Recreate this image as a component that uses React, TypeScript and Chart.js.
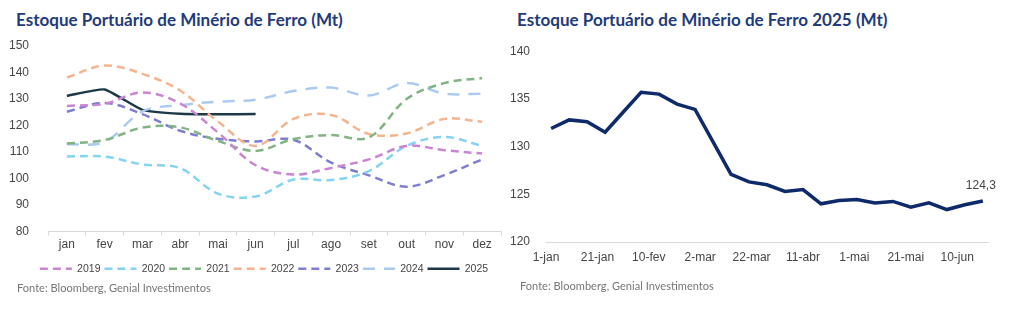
import React, { useEffect, useRef } from "react";
import { Chart, registerables } from "chart.js";

Chart.register(...registerables);

const months = ["jan", "fev", "mar", "abr", "mai", "jun", "jul", "ago", "set", "out", "nov", "dez"];
const years = ["2019", "2020", "2021", "2022", "2023", "2024", "2025"];
const s2019 = [127.4, 128.2, 132.5, 128.3, 117.4, 105.0, 101.5, 104.0, 107.2, 112.3, 110.7, 109.4];
const s2020 = [108.3, 108.3, 105.3, 103.9, 94.3, 93.2, 99.6, 99.4, 102.8, 112.3, 115.7, 112.3];
const s2021 = [113.2, 114.5, 119.2, 119.3, 114.2, 110.4, 114.9, 116.4, 115.5, 130.0, 136.0, 137.9];
const s2022 = [138.1, 142.6, 139.5, 133.2, 121.5, 112.3, 122.5, 124.0, 116.8, 117.0, 122.5, 121.4];
const s2023 = [125.2, 128.5, 124.3, 118.0, 115.0, 114.0, 114.6, 106.0, 101.2, 96.9, 101.3, 107.2];
const s2024 = [112.9, 113.8, 125.3, 127.7, 129.0, 129.7, 133.0, 134.3, 131.3, 136.0, 132.0, 132.0];
const s2025 = [131.2, 133.6, 125.9, 124.4, 124.2, 124.3];
const yearColors = ["#CB84D1", "#84D3F0", "#82B383", "#F6B48E", "#7E7ECF", "#AACBEF", "#1C3947"];
const yearDashes = [[8, 5], [8, 5], [8, 5], [8, 5], [8, 5], [12, 9], []];

const dayLabels = ["1-jan", "21-jan", "10-fev", "2-mar", "22-mar", "11-abr", "1-mai", "21-mai", "10-jun"];
const dayTicks = [0, 20, 40, 60, 80, 100, 120, 140, 160];
const stockDays = [2, 9, 16, 23, 30, 37, 44, 51, 58, 65, 72, 79, 86, 93, 100, 107, 114, 121, 128, 135, 142, 149, 156, 163, 170];
const stock2025 = [131.9, 132.8, 132.6, 131.5, 133.6, 135.7, 135.5, 134.45, 133.9, 130.5, 127.1, 126.3, 126.0, 125.3, 125.5, 124.0, 124.35, 124.45, 124.1, 124.25, 123.65, 124.1, 123.4, 123.9, 124.3];

const titleLeft = "Estoque Portuário de Minério de Ferro (Mt)";
const titleRight = "Estoque Portuário de Minério de Ferro 2025 (Mt)";
const sourceText = "Fonte: Bloomberg, Genial Investimentos";

const tickFont = { family: "'Liberation Sans', Arial, sans-serif", size: 12 };
const tickColor = "#454545";
const axisColor = "#D9D9D9";
const titleColor = "#1F3B7A";
const uiFamily = "Lato, 'Open Sans', sans-serif";

function fitSize(text: string, weight: string, family: string, target: number, base: number) {
  const c = document.createElement("canvas").getContext("2d");
  if (!c) return base;
  c.font = `${weight} ${base}px ${family}`;
  const w = c.measureText(text).width;
  return w > 0 ? (base * target) / w : base;
}

// shifts the legend box so that its items line up under the plot as in the reference
const legendBoxPlugin = {
  id: "legendBox",
  afterLayout(chart: any) {
    if (chart.legend) chart.legend.left = 19;
  },
};

function LeftChart() {
  const ref = useRef<HTMLCanvasElement>(null);
  useEffect(() => {
    if (!ref.current) return;
    const series = [s2019, s2020, s2021, s2022, s2023, s2024, s2025];
    const chart = new Chart(ref.current, {
      type: "line",
      data: {
        labels: months,
        datasets: series.map((d, i) => ({
          label: years[i],
          data: d,
          borderColor: yearColors[i],
          backgroundColor: yearColors[i],
          borderDash: yearDashes[i],
          borderWidth: 2.5,
          pointRadius: 0,
          tension: i === 6 ? 0.15 : 0.35,
          fill: false,
        })),
      },
      options: {
        animation: false,
        responsive: false,
        maintainAspectRatio: false,
        layout: { padding: { top: 10, right: 4, left: 0, bottom: 0 } },
        plugins: {
          legend: {
            position: "bottom",
            labels: {
              usePointStyle: true,
              pointStyle: "line",
              pointStyleWidth: 32,
              boxHeight: 10,
              padding: 4,
              color: tickColor,
              font: { family: "'Liberation Sans', Arial, sans-serif", size: 10.5 },
              generateLabels: (ch: any) =>
                ch.data.datasets.map((ds: any, i: number) => ({
                  text: ds.label,
                  datasetIndex: i,
                  fillStyle: ds.borderColor,
                  strokeStyle: ds.borderColor,
                  lineWidth: ds.borderWidth,
                  lineDash: ds.borderDash,
                  pointStyle: "line",
                  hidden: false,
                  fontColor: tickColor,
                })),
            },
          },
          tooltip: { enabled: false },
        },
        scales: {
          x: {
            offset: true,
            grid: { display: true, drawOnChartArea: false, drawTicks: true, tickLength: 4, offset: true, color: axisColor },
            border: { display: true, color: axisColor },
            ticks: { color: tickColor, font: tickFont, padding: 2, autoSkip: false, maxRotation: 0 },
            afterFit: (s: any) => { s.height = 28; },
          },
          y: {
            min: 80,
            max: 150,
            ticks: { stepSize: 10, color: tickColor, font: tickFont, padding: 11 },
            grid: { display: false },
            border: { display: false },
            afterFit: (s: any) => { s.width = 40; s.paddingTop = 0; s.paddingBottom = 0; },
          },
        },
      },
      plugins: [legendBoxPlugin],
    });
    return () => chart.destroy();
  }, []);
  return <canvas ref={ref} width={497} height={248} style={{ position: "absolute", left: 8, top: 36, width: 497, height: 248 }} />;
}

const lastLabelPlugin = {
  id: "lastLabel",
  afterDatasetsDraw(chart: any) {
    const meta = chart.getDatasetMeta(0);
    const pts = meta.data;
    const p = pts[pts.length - 1];
    const v = stock2025[stock2025.length - 1];
    const ctx = chart.ctx;
    ctx.save();
    ctx.font = "12px 'Liberation Sans', Arial, sans-serif";
    ctx.fillStyle = tickColor;
    ctx.textAlign = "center";
    ctx.textBaseline = "middle";
    ctx.fillText(v.toFixed(1).replace(".", ","), p.x - 2, p.y - 15);
    ctx.restore();
  },
};

function RightChart() {
  const ref = useRef<HTMLCanvasElement>(null);
  useEffect(() => {
    if (!ref.current) return;
    const chart = new Chart(ref.current, {
      type: "line",
      data: {
        datasets: [
          {
            label: "2025",
            data: stockDays.map((d, i) => ({ x: d, y: stock2025[i] })),
            borderColor: "#0E2A6B",
            borderWidth: 3.5,
            pointRadius: 0,
            tension: 0,
            fill: false,
          },
        ],
      },
      options: {
        animation: false,
        responsive: false,
        maintainAspectRatio: false,
        layout: { padding: { top: 8, right: 27, left: 0, bottom: 0 } },
        plugins: { legend: { display: false }, tooltip: { enabled: false } },
        scales: {
          x: {
            type: "linear",
            min: 0,
            max: 172,
            afterBuildTicks: (s: any) => { s.ticks = dayTicks.map((v) => ({ value: v })); },
            ticks: {
              color: tickColor,
              font: tickFont,
              padding: 0,
              maxRotation: 0,
              autoSkip: false,
              callback: (v: any) => {
                const i = dayTicks.indexOf(Number(v));
                return i >= 0 ? dayLabels[i] : "";
              },
            },
            grid: { display: false },
            border: { display: true, color: axisColor },
            afterFit: (s: any) => { s.height = 22; },
          },
          y: {
            min: 120,
            max: 140,
            ticks: { stepSize: 5, color: tickColor, font: tickFont, padding: 8 },
            grid: { display: false },
            border: { display: false },
            afterFit: (s: any) => { s.width = 41; },
          },
        },
      },
      plugins: [lastLabelPlugin],
    });
    return () => chart.destroy();
  }, []);
  return <canvas ref={ref} width={510} height={228} style={{ position: "absolute", left: 505, top: 36, width: 510, height: 228 }} />;
}

export default function App() {
  const titleSize = fitSize(titleLeft, "700", uiFamily, 327, 16);
  const srcSize = fitSize(sourceText, "400", uiFamily, 194, 11);
  const titleStyle: React.CSSProperties = {
    position: "absolute",
    top: 10,
    margin: 0,
    fontFamily: uiFamily,
    fontWeight: 700,
    fontSize: titleSize,
    lineHeight: "20px",
    color: titleColor,
    whiteSpace: "nowrap",
  };
  const srcStyle: React.CSSProperties = {
    position: "absolute",
    margin: 0,
    fontFamily: uiFamily,
    fontSize: srcSize,
    lineHeight: "14px",
    color: "#767676",
    whiteSpace: "nowrap",
  };
  return (
    <div style={{ position: "absolute", left: 0, top: 0, width: 1024, height: 328, background: "#fff", overflow: "hidden" }}>
      <div style={{ ...titleStyle, left: 16 }}>{titleLeft}</div>
      <div style={{ ...titleStyle, left: 517 }}>{titleRight}</div>
      <LeftChart />
      <RightChart />
      <div style={{ ...srcStyle, left: 17, top: 281 }}>{sourceText}</div>
      <div style={{ ...srcStyle, left: 520, top: 279 }}>{sourceText}</div>
    </div>
  );
}
